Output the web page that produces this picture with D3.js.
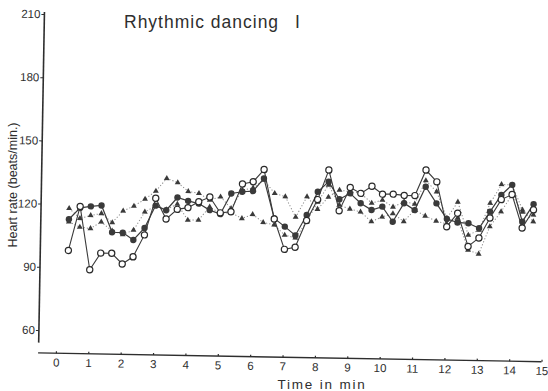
<!DOCTYPE html>
<html><head><meta charset="utf-8">
<script src="https://cdn.jsdelivr.net/npm/d3@7"></script>
<style>body{margin:0;background:#fff}svg{display:block}</style>
</head><body>
<svg id="c" width="548" height="391"></svg>
<script>
// time of each measurement (min)
const timeMin = [0.33,0.67,1.00,1.33,1.67,2.00,2.33,2.67,3.00,3.33,3.67,4.00,4.33,4.67,5.00,5.33,5.67,6.00,6.33,6.67,7.00,7.33,7.67,8.00,8.33,8.67,9.00,9.33,9.67,10.00,10.33,10.67,11.00,11.33,11.67,12.00,12.33,12.67,13.00,13.33,13.67,14.00,14.33,14.67];
// heart rate (beats/min)
const openCircle = [98,119,89,97,97,92,95.5,106,123.5,113.7,118.4,119.3,122.2,124.5,117.1,117.7,131,132.1,138,114.6,100.3,101.4,114.2,124.2,138.3,119.1,130.2,127.5,131,127.3,127.4,126.9,126.9,139.1,133.6,112.4,118.9,103.2,107.3,116.9,125.7,128.2,112.4,121.1];
const filledCircle = [112.8,118.3,119.1,119.6,107,106.9,103.5,109.3,120,117.9,124,122.5,121.3,118.3,116.5,126.4,127.3,127.7,133.8,114.9,111.1,107,116.8,127.9,132.8,124.5,127.4,122.8,119.7,121.4,114.3,123.2,120,131.2,123.4,116.1,114.5,114.2,111.9,119.9,127.9,132.8,115.4,123.8];
const triangleA = [118,113.3,114.8,115.8,111.6,117.2,119.6,123,126.9,133,131.1,127,126.2,123.1,124.7,119.3,128.1,129.2,133,126.8,125.3,115.7,125.5,119.6,125.5,128.9,128.2,127.5,123,124.5,121.3,123.9,122.9,134.1,128.9,116.4,124.2,108.6,111.1,123.9,132.9,132.7,121,115.5];
const triangleB = [111.6,109.2,108.6,111.8,107.6,106,108.2,116.9,119.8,118.2,120.9,113.4,113.5,119.8,116.8,117.3,114.6,116.6,112.9,111.8,107.1,105.8,113.5,123,131.2,121.8,120,118.7,114.2,116.5,118.2,114.5,120.1,117.3,115,113.7,116.6,101.5,99.7,112.8,120,128,120,118.7];
const xTickValues = [0,1,2,3,4,5,6,7,8,9,10,11,12,13,14,15];
const yTickValues = [60,90,120,150,180,210];

const svg = d3.select("#c");
const ink = "#2e2e2e";
const numFont = "'Liberation Sans Narrow','Arial Narrow','Liberation Sans',sans-serif";

const x = d3.scaleLinear().domain([0, 15]).range([55.9, 541.6]);
const y = d3.scaleLinear().domain([60, 210]).range([330, 14]);

// whole plot is slightly rotated as in the scanned original
const g = svg.append("g").attr("transform", "rotate(1,40,353)");

// x axis
const xa = g.append("g").attr("transform", "translate(0,353)")
  .call(d3.axisBottom(x).tickValues(xTickValues).tickSize(-2).tickSizeOuter(0).tickPadding(5));
xa.select(".domain").remove();
xa.selectAll(".tick line").attr("stroke", ink).attr("stroke-width", 1.2);
xa.selectAll(".tick text").attr("font-family", numFont).attr("font-size", 11.5).attr("fill", ink);
g.append("line").attr("x1", x(-0.55)).attr("x2", x(15)).attr("y1", 353).attr("y2", 353)
  .attr("stroke", ink).attr("stroke-width", 1.3);

// y axis
const ya = g.append("g").attr("transform", "translate(38.5,0)")
  .call(d3.axisLeft(y).tickValues(yTickValues).tickSize(3).tickSizeOuter(0).tickPadding(1));
ya.select(".domain").remove();
ya.selectAll(".tick line").attr("stroke", ink).attr("stroke-width", 1);
ya.selectAll(".tick text").attr("font-family", numFont).attr("font-size", 11.5).attr("fill", ink);
g.append("line").attr("x1", 38.5).attr("x2", 38.5).attr("y1", y(54)).attr("y2", y(211))
  .attr("stroke", ink).attr("stroke-width", 1.6);

const pts = arr => arr.map((v, i) => [timeMin[i], v]);
const line = d3.line().x(d => x(d[0])).y(d => y(d[1]));

// triangle series (dotted)
[triangleA, triangleB].forEach(s => {
  g.append("path").attr("d", line(pts(s))).attr("fill", "none")
    .attr("stroke", "#8a8a8a").attr("stroke-width", 1).attr("stroke-dasharray", "1.2,2");
});
const tri = d3.symbol().type(d3.symbolTriangle).size(15);
[triangleA, triangleB].forEach(s => {
  g.append("g").selectAll("path").data(pts(s)).join("path")
    .attr("d", tri).attr("transform", d => `translate(${x(d[0])},${y(d[1])})`)
    .attr("fill", "#3a3a3a");
});

// filled circles
g.append("path").attr("d", line(pts(filledCircle))).attr("fill", "none")
  .attr("stroke", "#3a3a3a").attr("stroke-width", 1.2);
g.append("g").selectAll("circle").data(pts(filledCircle)).join("circle")
  .attr("cx", d => x(d[0])).attr("cy", d => y(d[1])).attr("r", 3.2).attr("fill", "#3a3a3a");

// open circles
g.append("path").attr("d", line(pts(openCircle))).attr("fill", "none")
  .attr("stroke", "#3a3a3a").attr("stroke-width", 1.1);
g.append("g").selectAll("circle").data(pts(openCircle)).join("circle")
  .attr("cx", d => x(d[0])).attr("cy", d => y(d[1])).attr("r", 3.1)
  .attr("fill", "#fff").attr("stroke", "#2a2a2a").attr("stroke-width", 1.2);

// texts
svg.append("text").attr("x", 124).attr("y", 28).attr("font-family", "'Liberation Sans',sans-serif")
  .attr("font-size", 17.5).attr("letter-spacing", 1).attr("fill", ink).text("Rhythmic dancing");
svg.append("text").attr("x", 295).attr("y", 28).attr("font-family", "'Liberation Sans',sans-serif")
  .attr("font-size", 17.5).attr("fill", ink).text("I");
svg.append("text").attr("x", 322).attr("y", 389).attr("text-anchor", "middle")
  .attr("font-family", "'Liberation Sans',sans-serif").attr("font-size", 13.5).attr("letter-spacing", 1.8)
  .attr("fill", ink).text("Time in min");
svg.append("text").attr("transform", "translate(17,185) rotate(-90)").attr("text-anchor", "middle")
  .attr("font-family", "'Liberation Sans',sans-serif").attr("font-size", 12.5)
  .attr("fill", ink).text("Heart rate (beats/min.)");
</script>
</body></html>
